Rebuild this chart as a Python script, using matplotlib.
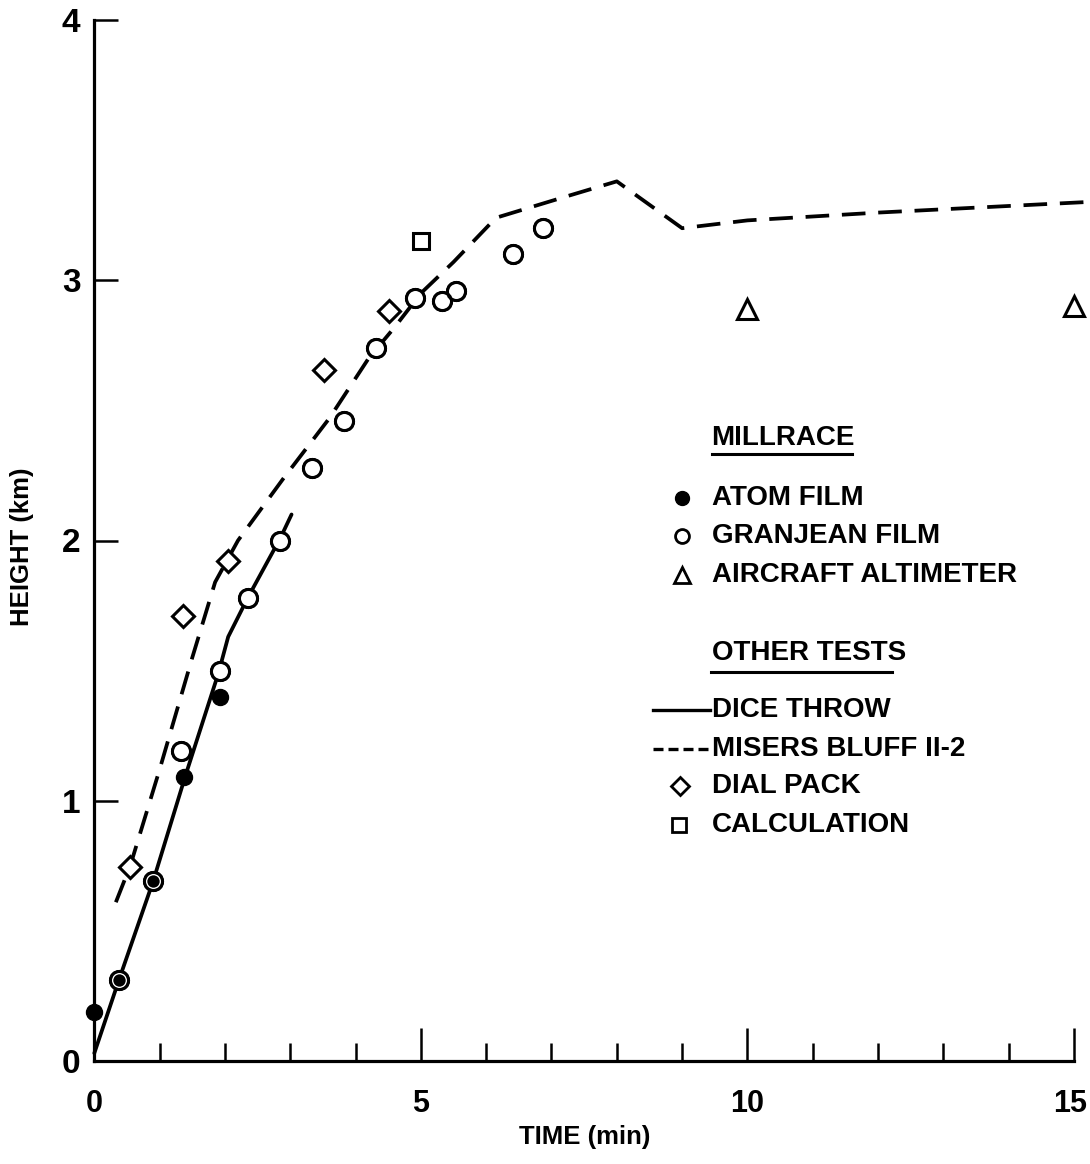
import matplotlib
matplotlib.use("Agg")
import matplotlib.pyplot as plt
from matplotlib import font_manager as fm
from matplotlib.transforms import ScaledTranslation

_names = {f.name for f in fm.fontManager.ttflist}
if 'Liberation Sans Narrow' in _names:
    FAM, SC = 'Liberation Sans Narrow', 1.2
else:
    FAM, SC = 'Liberation Sans', 1.0
plt.rcParams['font.family'] = [FAM, 'DejaVu Sans']
plt.rcParams['font.weight'] = 'bold'

# ---- data ----
atom_x = [0.0, 0.375, 0.90, 1.38, 1.93]
atom_y = [0.19, 0.31, 0.69, 1.09, 1.40]

granjean_x = [0.375, 0.90, 1.32, 1.92, 2.35, 2.84, 3.34, 3.83, 4.32, 4.91, 5.32, 5.54, 6.41, 6.87]
granjean_y = [0.31, 0.69, 1.19, 1.50, 1.78, 2.00, 2.28, 2.46, 2.74, 2.93, 2.92, 2.96, 3.10, 3.20]

aircraft_x = [10.0, 15.0]
aircraft_y = [2.89, 2.90]

dice_x = [0.0, 0.375, 0.90, 1.40, 1.90, 2.05, 2.35, 2.85, 3.02]
dice_y = [0.03, 0.31, 0.69, 1.10, 1.49, 1.63, 1.78, 2.01, 2.10]

misers_x = [0.33, 0.55, 1.0, 1.5, 1.85, 2.2, 2.9, 3.6, 4.2, 4.6, 5.0, 5.5, 6.15, 7.2, 8.0, 9.0, 10.0, 12.0, 15.15]
misers_y = [0.61, 0.75, 1.12, 1.55, 1.84, 2.00, 2.24, 2.47, 2.70, 2.82, 2.95, 3.07, 3.24, 3.32, 3.38, 3.20, 3.23, 3.26, 3.30]

dial_x = [0.54, 1.36, 2.04, 3.51, 4.51]
dial_y = [0.745, 1.71, 1.92, 2.655, 2.88]

calc_x = [5.0]
calc_y = [3.15]

x_ticks_major = [0, 5, 10, 15]
x_ticks_minor = list(range(1, 16))
y_ticks = [0, 1, 2, 3, 4]

# ---- figure ----
fig = plt.figure(figsize=(10.9, 11.64), dpi=100)
ax = fig.add_axes([94.3 / 1090, 1 - 1061 / 1164, (1074 - 94.3) / 1090, (1061 - 20) / 1164])
ax.set_xlim(0, 15)
ax.set_ylim(0, 4)

lw = 2.7
ax.plot(dice_x, dice_y, color='black', lw=lw, solid_capstyle='round', clip_on=False, zorder=2)
ax.plot(misers_x, misers_y, color='black', lw=lw, dashes=(6.3, 3.4), clip_on=False, zorder=2)

mew = 2.2
ax.plot(dial_x, dial_y, 'D', ms=11, mfc='white', mec='black', mew=mew, ls='none', zorder=3)
ax.plot(calc_x, calc_y, 's', ms=11, mfc='white', mec='black', mew=mew, ls='none', zorder=3)
ax.plot(aircraft_x, aircraft_y, '^', ms=14, mfc='white', mec='black', mew=mew, ls='none', zorder=3, clip_on=False)
# Granjean: white fill, then Atom dots, then a thin white inner ring + black ring on top
ax.plot(granjean_x, granjean_y, 'o', ms=13, mfc='white', mec='black', mew=mew, ls='none', zorder=3)
ax.plot(atom_x, atom_y, 'o', ms=11.5, mfc='black', mec='black', mew=1, ls='none', zorder=3.5, clip_on=False)
ax.plot(granjean_x, granjean_y, 'o', ms=10.6, mfc='none', mec='white', mew=1.7, ls='none', zorder=3.7)
ax.plot(granjean_x, granjean_y, 'o', ms=13, mfc='none', mec='black', mew=mew, ls='none', zorder=4)

for s in ['top', 'right']:
    ax.spines[s].set_visible(False)
for s in ['left', 'bottom']:
    ax.spines[s].set_linewidth(2.3)

ax.set_xticks(x_ticks_major)
ax.set_xticks(x_ticks_minor, minor=True)
ax.set_yticks(y_ticks)
ax.tick_params(axis='x', which='major', direction='in', length=24, width=1.8, pad=20, labelsize=22 * SC)
ax.tick_params(axis='x', which='minor', direction='in', length=13, width=1.8)
ax.tick_params(axis='y', which='major', direction='in', length=17, width=1.8, pad=10, labelsize=24 * SC)
for t in ax.get_xticklabels() + ax.get_yticklabels():
    t.set_fontweight('bold')
xt = ax.xaxis.get_major_ticks()
xt[0].tick1line.set_visible(False)
xt[-1].label1.set_transform(xt[-1].label1.get_transform() + ScaledTranslation(-3 / 72, 0, fig.dpi_scale_trans))
ax.yaxis.get_major_ticks()[0].tick1line.set_visible(False)

lfs = 18.5 * SC
fig.text(585 / 1090, 1 - 1137 / 1164, 'TIME (min)', ha='center', va='center', fontsize=lfs, fontweight='bold')
fig.text(22 / 1090, 1 - 547 / 1164, 'HEIGHT (km)', ha='center', va='center', rotation=90, fontsize=lfs, fontweight='bold')

# ---- legend (manual) ----
T = ax.transAxes
tx = 0.630
fs = 20 * SC
def label(y, s):
    ax.text(tx, y, s, transform=T, ha='left', va='center', fontsize=fs, fontweight='bold')

label(0.598, 'MILLRACE')
ax.plot([0.630, 0.773], [0.583, 0.583], transform=T, color='black', lw=2.2, clip_on=False)
label(0.541, 'ATOM FILM')
ax.plot([0.600], [0.541], 'o', transform=T, ms=10, mfc='black', mec='black')
label(0.504, 'GRANJEAN FILM')
ax.plot([0.600], [0.504], 'o', transform=T, ms=10, mfc='white', mec='black', mew=2)
label(0.467, 'AIRCRAFT ALTIMETER')
ax.plot([0.600], [0.467], '^', transform=T, ms=12, mfc='white', mec='black', mew=2)

label(0.392, 'OTHER TESTS')
ax.plot([0.629, 0.814], [0.374, 0.374], transform=T, color='black', lw=2.2, clip_on=False)
label(0.337, 'DICE THROW')
ax.plot([0.570, 0.628], [0.337, 0.337], transform=T, color='black', lw=2.4)
label(0.300, 'MISERS BLUFF II-2')
ax.plot([0.570, 0.628], [0.300, 0.300], transform=T, color='black', lw=2.4, dashes=(3, 1.5))
label(0.264, 'DIAL PACK')
ax.plot([0.598], [0.264], 'D', transform=T, ms=9.5, mfc='white', mec='black', mew=2)
label(0.227, 'CALCULATION')
ax.plot([0.597], [0.227], 's', transform=T, ms=9.5, mfc='white', mec='black', mew=2)

fig.savefig('out.png', dpi=100, facecolor='white')
